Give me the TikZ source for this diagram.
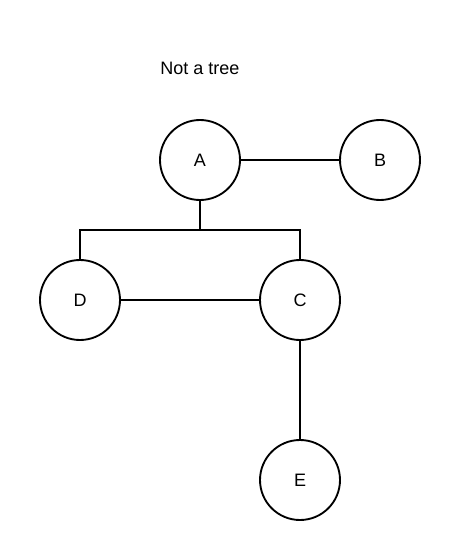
\documentclass[tikz,border=0pt]{standalone}
\usepackage{fontspec}
\setmainfont{Liberation Sans}
\usetikzlibrary{positioning}

\begin{document}
\begin{tikzpicture}[
        x=0.75pt, y=-0.75pt,
        every node/.style={font=\fontsize{13.5}{16}\selectfont, align=center},
        vertex/.style={circle, draw=black, line width=1.4pt, minimum size=60pt, inner sep=0pt},
        link/.style={line width=1.4pt}
    ]
    \useasboundingbox (0,0) rectangle (460,560);
    % Title
    \node (title) at (200,68) {Not a tree};
    % Nodes
    \node[vertex] (A) at (200,160) {A};
    \node[vertex] (B) at (380,160) {B};
    \node[vertex] (D) at (80,300) {D};
    \node[vertex] (C) at (300,300) {C};
    \node[vertex] (E) at (300,480) {E};
    \coordinate (split) at (200,230);
    % Edges
    \draw[link] (A) -- (B);
    \draw[link] (A.south) -- (split);
    \draw[link] (split) -| (D.north);
    \draw[link] (split) -| (C.north);
    \draw[link] (D) -- (C);
    \draw[link] (C) -- (E);
\end{tikzpicture}
\end{document}
